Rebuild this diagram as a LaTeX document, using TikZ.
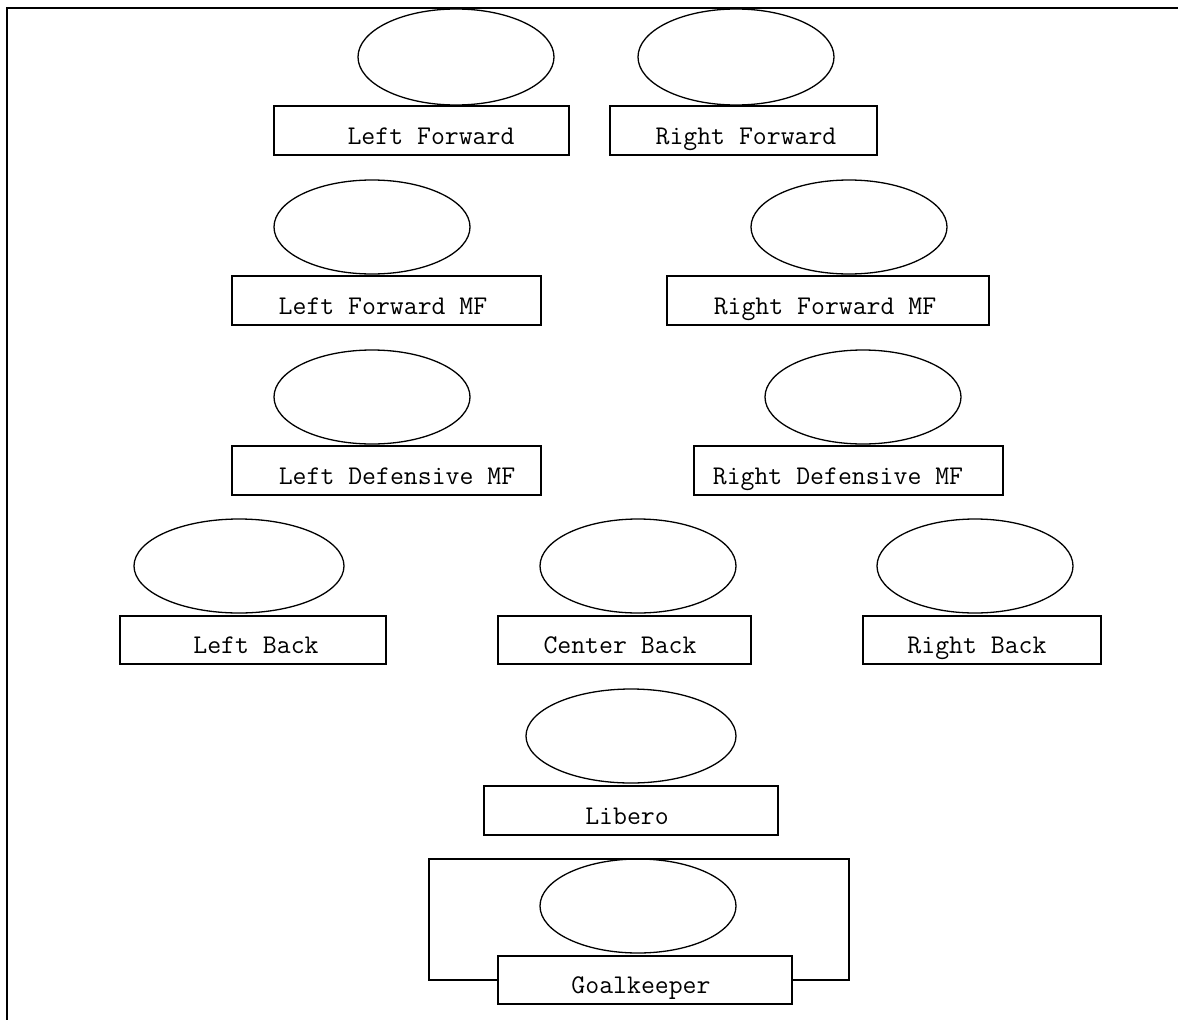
\documentclass[tikz,border=0pt]{standalone}
\begin{document}
\begin{tikzpicture}[x=1pt,y=-1pt,line width=1.3pt,
	lbl/.style={anchor=base,inner sep=0pt,font=\fontsize{27}{30}\selectfont\ttfamily}]
		\useasboundingbox (0,0) rectangle (1178,1020);
		\draw[line width=2pt] (7,1020) -- (7,8) -- (1178,8);
		% forwards
		\draw (456,57) ellipse (98 and 48);
		\draw (736,57) ellipse (98 and 48);
		\draw (274,106) rectangle (569,155);
		\node[lbl] (lf) at (431,144) {Left Forward};
		\draw (610,106) rectangle (877,155);
		\node[lbl] (rf) at (746,144) {Right Forward};
		% forward midfield
		\draw (372,227) ellipse (98 and 47);
		\draw (849,227) ellipse (98 and 47);
		\draw (232,276) rectangle (541,325);
		\node[lbl] (lfmf) at (383,314) {Left Forward MF};
		\draw (667,276) rectangle (989,325);
		\node[lbl] (rfmf) at (825,314) {Right Forward MF};
		% defensive midfield
		\draw (372,397) ellipse (98 and 47);
		\draw (863,397) ellipse (98 and 47);
		\draw (232,446) rectangle (541,495);
		\node[lbl] (ldmf) at (397,484) {Left Defensive MF};
		\draw (694,446) rectangle (1003,495);
		\node[lbl] (rdmf) at (838,484) {Right Defensive MF};
		% backs
		\draw (239,566) ellipse (105 and 47);
		\draw (638,566) ellipse (98 and 47);
		\draw (975,566) ellipse (98 and 47);
		\draw (120,616) rectangle (386,664);
		\node[lbl] (lb) at (256,653) {Left Back};
		\draw (498,616) rectangle (751,664);
		\node[lbl] (cb) at (620,653) {Center Back};
		\draw (863,616) rectangle (1101,664);
		\node[lbl] (rb) at (977,653) {Right Back};
		% libero
		\draw (631,736) ellipse (105 and 47);
		\draw (484,786) rectangle (778,835);
		\node[lbl] (lib) at (627,824) {Libero};
		% goal
		\draw (429,859) rectangle (849,980);
		\draw (638,906) ellipse (98 and 47);
		\draw[fill=white] (498,956) rectangle (792,1004);
		\node[lbl] (gk) at (641,993) {Goalkeeper};
\end{tikzpicture}
\end{document}
